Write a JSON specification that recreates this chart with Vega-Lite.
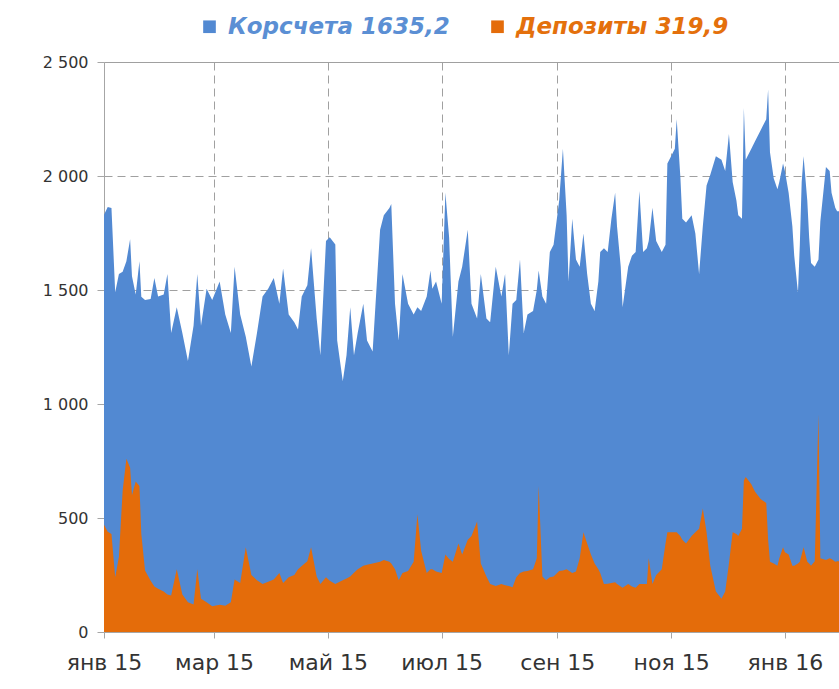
{
  "$schema": "https://vega.github.io/schema/vega-lite/v6.json",
  "autosize": {"type": "none"},
  "padding": {"left": 104, "top": 62, "right": 0, "bottom": 57},
  "width": 735,
  "height": 570,
  "background": "white",
  "config": {"view": {"stroke": null}},
  "data": {"values": [
    {"date":"2015-01-01","korr":1830,"depo":470},
    {"date":"2015-01-03","korr":1864,"depo":440},
    {"date":"2015-01-05","korr":1860,"depo":430},
    {"date":"2015-01-07","korr":1490,"depo":240},
    {"date":"2015-01-09","korr":1570,"depo":330},
    {"date":"2015-01-11","korr":1580,"depo":620},
    {"date":"2015-01-13","korr":1626,"depo":760},
    {"date":"2015-01-15","korr":1723,"depo":720},
    {"date":"2015-01-16","korr":1560,"depo":600},
    {"date":"2015-01-18","korr":1480,"depo":660},
    {"date":"2015-01-20","korr":1626,"depo":640},
    {"date":"2015-01-21","korr":1470,"depo":430},
    {"date":"2015-01-23","korr":1456,"depo":270},
    {"date":"2015-01-26","korr":1460,"depo":225},
    {"date":"2015-01-28","korr":1553,"depo":200},
    {"date":"2015-01-30","korr":1472,"depo":190},
    {"date":"2015-02-02","korr":1480,"depo":178},
    {"date":"2015-02-04","korr":1570,"depo":165},
    {"date":"2015-02-06","korr":1311,"depo":160},
    {"date":"2015-02-09","korr":1424,"depo":275},
    {"date":"2015-02-12","korr":1311,"depo":165},
    {"date":"2015-02-15","korr":1189,"depo":130},
    {"date":"2015-02-18","korr":1343,"depo":121},
    {"date":"2015-02-20","korr":1570,"depo":275},
    {"date":"2015-02-22","korr":1343,"depo":146},
    {"date":"2015-02-25","korr":1505,"depo":130},
    {"date":"2015-02-28","korr":1456,"depo":113},
    {"date":"2015-03-04","korr":1537,"depo":120},
    {"date":"2015-03-07","korr":1392,"depo":115},
    {"date":"2015-03-10","korr":1311,"depo":130},
    {"date":"2015-03-12","korr":1602,"depo":230},
    {"date":"2015-03-15","korr":1392,"depo":215},
    {"date":"2015-03-18","korr":1295,"depo":372},
    {"date":"2015-03-21","korr":1165,"depo":250},
    {"date":"2015-03-24","korr":1311,"depo":227},
    {"date":"2015-03-27","korr":1472,"depo":210},
    {"date":"2015-03-30","korr":1505,"depo":220},
    {"date":"2015-04-02","korr":1553,"depo":230},
    {"date":"2015-04-05","korr":1440,"depo":259},
    {"date":"2015-04-07","korr":1594,"depo":215},
    {"date":"2015-04-10","korr":1392,"depo":240},
    {"date":"2015-04-13","korr":1359,"depo":250},
    {"date":"2015-04-15","korr":1327,"depo":275},
    {"date":"2015-04-17","korr":1472,"depo":290},
    {"date":"2015-04-20","korr":1521,"depo":310},
    {"date":"2015-04-22","korr":1683,"depo":372},
    {"date":"2015-04-25","korr":1375,"depo":243},
    {"date":"2015-04-27","korr":1214,"depo":210},
    {"date":"2015-04-30","korr":1715,"depo":240},
    {"date":"2015-05-02","korr":1731,"depo":225},
    {"date":"2015-05-05","korr":1700,"depo":210},
    {"date":"2015-05-06","korr":1278,"depo":215},
    {"date":"2015-05-09","korr":1100,"depo":227},
    {"date":"2015-05-11","korr":1214,"depo":235},
    {"date":"2015-05-13","korr":1424,"depo":243},
    {"date":"2015-05-15","korr":1214,"depo":260},
    {"date":"2015-05-17","korr":1311,"depo":275},
    {"date":"2015-05-20","korr":1440,"depo":291},
    {"date":"2015-05-22","korr":1278,"depo":295},
    {"date":"2015-05-25","korr":1230,"depo":300},
    {"date":"2015-05-29","korr":1764,"depo":308},
    {"date":"2015-05-31","korr":1828,"depo":316},
    {"date":"2015-06-03","korr":1860,"depo":308},
    {"date":"2015-06-04","korr":1877,"depo":300},
    {"date":"2015-06-06","korr":1440,"depo":275},
    {"date":"2015-06-08","korr":1278,"depo":227},
    {"date":"2015-06-10","korr":1570,"depo":259},
    {"date":"2015-06-13","korr":1440,"depo":267},
    {"date":"2015-06-16","korr":1392,"depo":308},
    {"date":"2015-06-18","korr":1424,"depo":516},
    {"date":"2015-06-20","korr":1408,"depo":356},
    {"date":"2015-06-23","korr":1472,"depo":259},
    {"date":"2015-06-25","korr":1586,"depo":275},
    {"date":"2015-06-26","korr":1505,"depo":275},
    {"date":"2015-06-28","korr":1537,"depo":265},
    {"date":"2015-07-01","korr":1440,"depo":259},
    {"date":"2015-07-03","korr":1926,"depo":340},
    {"date":"2015-07-05","korr":1731,"depo":320},
    {"date":"2015-07-07","korr":1295,"depo":308},
    {"date":"2015-07-10","korr":1537,"depo":388},
    {"date":"2015-07-12","korr":1602,"depo":340},
    {"date":"2015-07-15","korr":1764,"depo":405},
    {"date":"2015-07-17","korr":1440,"depo":421},
    {"date":"2015-07-20","korr":1375,"depo":485},
    {"date":"2015-07-22","korr":1570,"depo":300},
    {"date":"2015-07-25","korr":1375,"depo":243},
    {"date":"2015-07-27","korr":1359,"depo":210},
    {"date":"2015-07-30","korr":1602,"depo":202},
    {"date":"2015-08-02","korr":1472,"depo":210},
    {"date":"2015-08-04","korr":1570,"depo":205},
    {"date":"2015-08-06","korr":1214,"depo":202},
    {"date":"2015-08-08","korr":1440,"depo":196},
    {"date":"2015-08-10","korr":1456,"depo":240},
    {"date":"2015-08-12","korr":1634,"depo":259},
    {"date":"2015-08-14","korr":1311,"depo":265},
    {"date":"2015-08-16","korr":1392,"depo":267},
    {"date":"2015-08-19","korr":1408,"depo":275},
    {"date":"2015-08-21","korr":1500,"depo":324},
    {"date":"2015-08-22","korr":1586,"depo":640},
    {"date":"2015-08-24","korr":1472,"depo":243},
    {"date":"2015-08-26","korr":1440,"depo":227},
    {"date":"2015-08-28","korr":1667,"depo":240},
    {"date":"2015-08-30","korr":1699,"depo":243},
    {"date":"2015-09-02","korr":1893,"depo":267},
    {"date":"2015-09-04","korr":2120,"depo":270},
    {"date":"2015-09-06","korr":1828,"depo":275},
    {"date":"2015-09-07","korr":1537,"depo":270},
    {"date":"2015-09-09","korr":1812,"depo":259},
    {"date":"2015-09-11","korr":1634,"depo":265},
    {"date":"2015-09-13","korr":1602,"depo":324},
    {"date":"2015-09-15","korr":1748,"depo":437},
    {"date":"2015-09-17","korr":1570,"depo":388},
    {"date":"2015-09-19","korr":1440,"depo":340},
    {"date":"2015-09-21","korr":1408,"depo":300},
    {"date":"2015-09-23","korr":1537,"depo":275},
    {"date":"2015-09-24","korr":1667,"depo":259},
    {"date":"2015-09-26","korr":1683,"depo":210},
    {"date":"2015-09-28","korr":1667,"depo":212},
    {"date":"2015-09-30","korr":1812,"depo":215},
    {"date":"2015-10-02","korr":1926,"depo":218},
    {"date":"2015-10-03","korr":1780,"depo":210},
    {"date":"2015-10-05","korr":1602,"depo":200},
    {"date":"2015-10-06","korr":1424,"depo":194},
    {"date":"2015-10-09","korr":1602,"depo":210},
    {"date":"2015-10-11","korr":1650,"depo":200},
    {"date":"2015-10-13","korr":1667,"depo":194},
    {"date":"2015-10-15","korr":1934,"depo":210},
    {"date":"2015-10-17","korr":1667,"depo":210},
    {"date":"2015-10-19","korr":1683,"depo":210},
    {"date":"2015-10-20","korr":1715,"depo":324},
    {"date":"2015-10-22","korr":1861,"depo":210},
    {"date":"2015-10-24","korr":1715,"depo":250},
    {"date":"2015-10-27","korr":1667,"depo":275},
    {"date":"2015-10-29","korr":1699,"depo":388},
    {"date":"2015-10-30","korr":2055,"depo":437},
    {"date":"2015-11-01","korr":2087,"depo":437},
    {"date":"2015-11-03","korr":2120,"depo":437},
    {"date":"2015-11-04","korr":2249,"depo":437},
    {"date":"2015-11-06","korr":1990,"depo":420},
    {"date":"2015-11-07","korr":1812,"depo":405},
    {"date":"2015-11-09","korr":1796,"depo":388},
    {"date":"2015-11-12","korr":1828,"depo":421},
    {"date":"2015-11-14","korr":1748,"depo":437},
    {"date":"2015-11-16","korr":1570,"depo":453},
    {"date":"2015-11-18","korr":1780,"depo":542},
    {"date":"2015-11-20","korr":1958,"depo":437},
    {"date":"2015-11-22","korr":2006,"depo":291},
    {"date":"2015-11-25","korr":2087,"depo":178},
    {"date":"2015-11-28","korr":2071,"depo":146},
    {"date":"2015-11-30","korr":2022,"depo":178},
    {"date":"2015-12-02","korr":2184,"depo":300},
    {"date":"2015-12-04","korr":1974,"depo":437},
    {"date":"2015-12-06","korr":1893,"depo":430},
    {"date":"2015-12-07","korr":1828,"depo":421},
    {"date":"2015-12-09","korr":1812,"depo":453},
    {"date":"2015-12-10","korr":2298,"depo":664},
    {"date":"2015-12-11","korr":2071,"depo":680},
    {"date":"2015-12-14","korr":2120,"depo":648},
    {"date":"2015-12-16","korr":2152,"depo":615},
    {"date":"2015-12-19","korr":2201,"depo":583},
    {"date":"2015-12-22","korr":2249,"depo":566},
    {"date":"2015-12-23","korr":2379,"depo":405},
    {"date":"2015-12-24","korr":2104,"depo":308},
    {"date":"2015-12-26","korr":1990,"depo":300},
    {"date":"2015-12-28","korr":1942,"depo":291},
    {"date":"2015-12-29","korr":1974,"depo":324},
    {"date":"2015-12-31","korr":2055,"depo":372},
    {"date":"2016-01-01","korr":2022,"depo":350},
    {"date":"2016-01-03","korr":1926,"depo":340},
    {"date":"2016-01-05","korr":1780,"depo":291},
    {"date":"2016-01-06","korr":1650,"depo":291},
    {"date":"2016-01-08","korr":1489,"depo":300},
    {"date":"2016-01-09","korr":1699,"depo":308},
    {"date":"2016-01-10","korr":1974,"depo":340},
    {"date":"2016-01-11","korr":2087,"depo":372},
    {"date":"2016-01-13","korr":1893,"depo":308},
    {"date":"2016-01-14","korr":1731,"depo":300},
    {"date":"2016-01-15","korr":1618,"depo":291},
    {"date":"2016-01-17","korr":1602,"depo":310},
    {"date":"2016-01-19","korr":1634,"depo":955},
    {"date":"2016-01-20","korr":1800,"depo":324},
    {"date":"2016-01-23","korr":2039,"depo":316},
    {"date":"2016-01-25","korr":2022,"depo":324},
    {"date":"2016-01-26","korr":1926,"depo":320},
    {"date":"2016-01-28","korr":1861,"depo":308},
    {"date":"2016-01-29","korr":1845,"depo":310},
    {"date":"2016-01-30","korr":1845,"depo":310}
  ]},
  "encoding": {
    "x": {
      "field": "date", "type": "temporal",
      "scale": {"type": "utc", "domain": [{"year": 2015, "month": 1, "date": 1, "utc": true}, {"year": 2016, "month": 1, "date": 30, "utc": true}]},
      "axis": {
        "title": null,
        "tickCount": {"interval": "month", "step": 2},
        "labelExpr": "['янв','фев','мар','апр','май','июн','июл','авг','сен','окт','ноя','дек'][utcmonth(datum.value)] + ' ' + utcFormat(datum.value, '%y')",
        "labelFont": "DejaVu Sans", "labelFontSize": 22, "labelColor": "#333333",
        "labelPadding": 14, "tickSize": 6, "tickColor": "#a6a6a6", "domainColor": "#a6a6a6",
        "grid": true, "gridColor": "#a0a0a0", "gridDash": [8, 5], "gridWidth": 1,
        "labelFlush": false, "labelOverlap": false
      }
    }
  },
  "layer": [
    {
      "mark": {"type": "area", "opacity": 1},
      "encoding": {
        "y": {
          "field": "korr", "type": "quantitative",
          "scale": {"domain": [0, 2500], "nice": false},
          "axis": {
            "title": null, "values": [0, 500, 1000, 1500, 2000, 2500],
            "labelExpr": "replace(format(datum.value, ','), ',', ' ')",
            "labelFont": "DejaVu Sans", "labelFontSize": 16, "labelColor": "#333333",
            "labelPadding": 9, "tickSize": 7, "tickColor": "#a6a6a6", "domainColor": "#a6a6a6",
            "grid": true, "gridColor": "#a0a0a0", "gridWidth": 1,
            "gridDash": {"condition": {"test": "datum.value === 2500", "value": []}, "value": [8, 5]}
          }
        },
        "color": {
          "datum": "Корсчета 1635,2",
          "scale": {"domain": ["Корсчета 1635,2", "Депозиты 319,9"], "range": ["#5289d2", "#e46c0a"]},
          "legend": {
            "title": null, "orient": "none", "direction": "horizontal",
            "legendX": 94, "legendY": -47,
            "symbolType": "square", "symbolSize": 160, "symbolStrokeWidth": 0,
            "labelFont": "DejaVu Sans", "labelFontSize": 23, "labelFontStyle": "italic", "labelFontWeight": "bold",
            "labelColor": {"expr": "datum.label === 'Корсчета 1635,2' ? '#5b8fd4' : '#e4700c'"},
            "labelLimit": 400, "columnPadding": 36, "labelOffset": 7
          }
        }
      }
    },
    {
      "mark": {"type": "area", "opacity": 1},
      "encoding": {
        "y": {"field": "depo", "type": "quantitative"},
        "color": {"datum": "Депозиты 319,9"}
      }
    }
  ]
}
